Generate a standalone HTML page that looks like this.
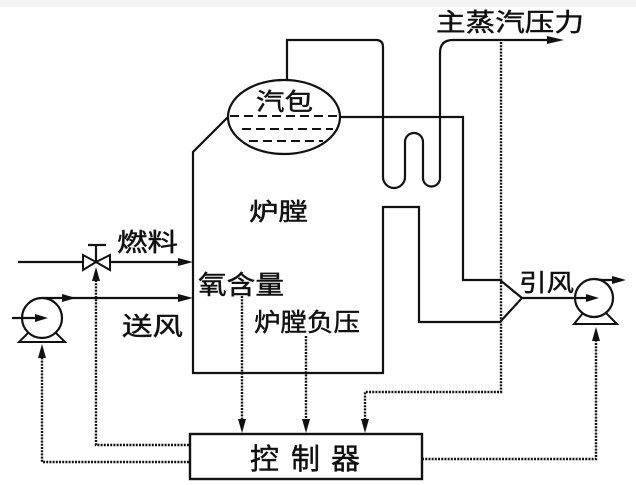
<!DOCTYPE html>
<html><head><meta charset="utf-8">
<style>
html,body{margin:0;padding:0;background:#fff;}
svg{display:block;}
text{font-family:"Liberation Sans","Noto Sans CJK SC",sans-serif;fill:#111;stroke:#111;stroke-width:0.45;}
</style></head>
<body>
<svg width="636" height="485" viewBox="0 0 636 485" xmlns="http://www.w3.org/2000/svg">
<rect x="0" y="0" width="636" height="7" fill="#f4f4f4"/>
<g fill="none" stroke="#111" stroke-width="2.2" stroke-linejoin="miter">
  <path d="M228 117 L193 152 L193 373 L383 373 L383 207 L419 207 L419 322 L500 322 L522 298 L500 280 L463 280 L463 117 L340 117"/>
  <path d="M287 80 L287 40 L376 40 Q383 40 383 47 L383 177 A11 11 0 0 0 405 177 L405 142 A9 9 0 0 1 423 142 L423 178 A8.5 8.5 0 0 0 440 178 L440 53 Q440 40 453 40 L550 40"/>
  <ellipse cx="284" cy="117" rx="56" ry="37" fill="none"/>
  <line x1="18" y1="262" x2="182" y2="262"/>
  <line x1="42" y1="298" x2="182" y2="298"/>
  <line x1="522" y1="298" x2="588" y2="298"/>
  <line x1="96" y1="262" x2="96" y2="245"/>
  <line x1="88" y1="245" x2="106" y2="245"/>
  <path d="M594 279 Q598 280 603 280 L614 280"/>
</g>
<g stroke="#111" stroke-width="2" stroke-dasharray="9 5">
  <line x1="230" y1="116" x2="337" y2="116"/>
  <line x1="242" y1="129" x2="333" y2="129"/>
  <line x1="249" y1="141" x2="323" y2="141"/>
</g>
<polygon points="83,255 96,262 83,270" fill="#fff" stroke="#111" stroke-width="2"/>
<polygon points="110,255 96,262 110,270" fill="#fff" stroke="#111" stroke-width="2"/>
<polygon points="30,331 54,331 65,342 19,342" fill="#fff" stroke="#111" stroke-width="2"/>
<circle cx="42" cy="318" r="20" fill="#fff" stroke="#111" stroke-width="2.2"/>
<line x1="12" y1="318" x2="36" y2="318" stroke="#111" stroke-width="2.2"/>
<polygon points="48,318 35,314 35,322" fill="#111"/>
<polygon points="583,313 606,313 617,324 574,324" fill="#fff" stroke="#111" stroke-width="2"/>
<circle cx="594" cy="298" r="19" fill="#fff" stroke="#111" stroke-width="2.2"/>
<line x1="575" y1="298" x2="588" y2="298" stroke="#111" stroke-width="2.2"/>
<polygon points="599,298 586,294 586,302" fill="#111"/>
<g fill="#111">
  <polygon points="193,262 178,258 178,266"/>
  <polygon points="193,298 178,294 178,302"/>
  <polygon points="76,298 62,294 62,302"/>
  <polygon points="564,40 547,36 547,44"/>
  <polygon points="626,280 612,276 612,284"/>
</g>
<g fill="none" stroke="#111" stroke-width="2.4" stroke-dasharray="2 1.2">
  <path d="M501 42 L501 392 L365 392 L365 420"/>
  <line x1="242" y1="296" x2="242" y2="420"/>
  <line x1="306" y1="336" x2="306" y2="420"/>
  <path d="M422 459 L596 459 L596 340"/>
  <path d="M189 445 L96 445 L96 280"/>
  <path d="M189 462 L42 462 L42 357"/>
</g>
<g fill="#111">
  <polygon points="365,433 361,419 369,419"/>
  <polygon points="242,433 238,419 246,419"/>
  <polygon points="306,433 302,419 310,419"/>
  <polygon points="596,327 592,341 600,341"/>
  <polygon points="96,267 92,281 100,281"/>
  <polygon points="42,344 38,358 46,358"/>
</g>
<rect x="190" y="434" width="232" height="45" fill="#fff" stroke="#111" stroke-width="2.4"/>
<text x="256" y="110" font-size="24" textLength="57" lengthAdjust="spacingAndGlyphs">汽包</text>
<text x="436" y="31" font-size="25" textLength="148" lengthAdjust="spacingAndGlyphs">主蒸汽压力</text>
<text x="249" y="220" font-size="24" textLength="59" lengthAdjust="spacingAndGlyphs">炉膛</text>
<text x="117" y="251" font-size="25" textLength="61" lengthAdjust="spacingAndGlyphs">燃料</text>
<text x="122" y="335" font-size="25" textLength="61" lengthAdjust="spacingAndGlyphs">送风</text>
<text x="198" y="294" font-size="26" textLength="86" lengthAdjust="spacingAndGlyphs">氧含量</text>
<text x="254" y="331" font-size="25" textLength="106" lengthAdjust="spacingAndGlyphs">炉膛负压</text>
<text x="519" y="291" font-size="24" textLength="55" lengthAdjust="spacingAndGlyphs">引风</text>
<text x="250" y="469" font-size="29">控</text>
<text x="291" y="469" font-size="29">制</text>
<text x="331" y="469" font-size="29">器</text>
</svg>
</body></html>
